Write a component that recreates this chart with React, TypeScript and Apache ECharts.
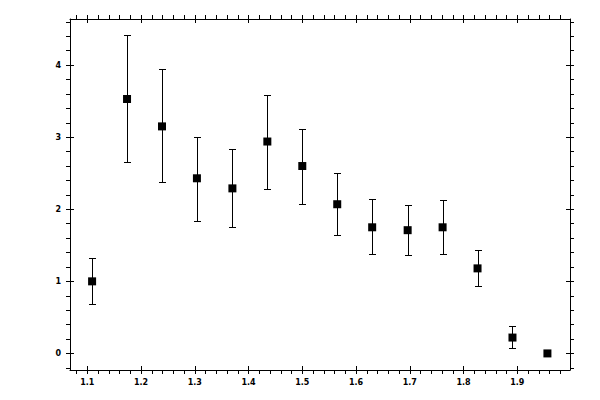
import React, { useEffect, useRef } from "react";
import * as echarts from "echarts";

const xValues = [1.109, 1.174, 1.239, 1.304, 1.37, 1.435, 1.5, 1.565, 1.63, 1.696, 1.761, 1.826, 1.891, 1.956];
const yValues = [1.0, 3.53, 3.15, 2.43, 2.29, 2.94, 2.6, 2.07, 1.75, 1.71, 1.75, 1.18, 0.22, 0.0];
const yUpper = [1.32, 4.42, 3.94, 3.0, 2.83, 3.59, 3.11, 2.5, 2.14, 2.06, 2.125, 1.44, 0.375, 0.0];
const yLower = [0.69, 2.65, 2.375, 1.84, 1.75, 2.28, 2.07, 1.64, 1.38, 1.36, 1.38, 0.93, 0.07, 0.0];

const xMajorTicks = [1.1, 1.2, 1.3, 1.4, 1.5, 1.6, 1.7, 1.8, 1.9];
const yMajorTicks = [0, 1, 2, 3, 4];

const X_MIN = 1.0679;
const X_MAX = 1.998;
const Y_MIN = -0.23;
const Y_MAX = 4.64;

function steps(from: number, to: number, step: number): number[] {
  const out: number[] = [];
  const n = Math.round((to - from) / step);
  for (let i = 0; i <= n; i++) out.push(Math.round((from + i * step) * 10000) / 10000);
  return out;
}

const xAllTicks = steps(1.08, 1.98, 0.02);
const yAllTicks = steps(-0.2, 4.6, 0.2);

const FONT = { fontFamily: "DejaVu Sans", fontSize: 8, fontWeight: "bold" as const, color: "#000" };

function makeX(position: "top" | "bottom", inner: boolean, labels: boolean) {
  return {
    type: "value",
    position,
    min: X_MIN,
    max: X_MAX,
    offset: 0,
    axisLine: { show: !inner, onZero: false, lineStyle: { color: "#000", width: 1 } },
    axisTick: {
      show: true,
      inside: inner,
      length: 4,
      customValues: inner ? xMajorTicks : xAllTicks,
      lineStyle: { color: "#000", width: 1 },
    },
    minorTick: { show: false },
    axisLabel: {
      show: labels,
      customValues: xMajorTicks,
      margin: 8,
      formatter: (v: number) => v.toFixed(1),
      ...FONT,
    },
    splitLine: { show: false },
  };
}

function makeY(position: "left" | "right", inner: boolean, labels: boolean) {
  return {
    type: "value",
    position,
    min: Y_MIN,
    max: Y_MAX,
    offset: 0,
    axisLine: { show: !inner, onZero: false, lineStyle: { color: "#000", width: 1 } },
    axisTick: {
      show: true,
      inside: inner,
      length: 4,
      customValues: inner ? yMajorTicks : yAllTicks,
      lineStyle: { color: "#000", width: 1 },
    },
    minorTick: { show: false },
    axisLabel: {
      show: labels,
      customValues: yMajorTicks,
      margin: 9,
      formatter: (v: number) => String(Math.round(v)),
      ...FONT,
    },
    splitLine: { show: false },
  };
}

const crisp = (v: number) => Math.round(v) + 0.5;

export default function App() {
  const ref = useRef<HTMLDivElement>(null);
  useEffect(() => {
    if (!ref.current) return;
    const chart = echarts.init(ref.current, undefined, { renderer: "svg" });
    const errData = xValues.map((x, i) => [x, yLower[i], yUpper[i]]);
    const ptData = xValues.map((x, i) => [x, yValues[i]]);
    chart.setOption({
      animation: false,
      backgroundColor: "#fff",
      grid: { left: 70, right: 30, top: 19, bottom: 30, containLabel: false },
      xAxis: [makeX("bottom", false, true), makeX("bottom", true, false), makeX("top", false, false), makeX("top", true, false)],
      yAxis: [makeY("left", false, true), makeY("left", true, false), makeY("right", false, false), makeY("right", true, false)],
      series: [
        {
          type: "custom",
          xAxisIndex: 0,
          yAxisIndex: 0,
          data: errData,
          encode: { x: 0, y: [1, 2] },
          renderItem: (params: any, api: any) => {
            const x = api.value(0);
            const lo = api.value(1);
            const hi = api.value(2);
            if (hi === lo) return { type: "group", children: [] };
            const pHi = api.coord([x, hi]);
            const pLo = api.coord([x, lo]);
            const cx = crisp(pHi[0]);
            const yh = crisp(pHi[1]);
            const yl = crisp(pLo[1]);
            const cap = 3.5;
            const st = { stroke: "#000", lineWidth: 1 };
            return {
              type: "group",
              children: [
                { type: "line", shape: { x1: cx, y1: yh, x2: cx, y2: yl }, style: st },
                { type: "line", shape: { x1: cx - cap, y1: yh, x2: cx + cap, y2: yh }, style: st },
                { type: "line", shape: { x1: cx - cap, y1: yl, x2: cx + cap, y2: yl }, style: st },
              ],
            };
          },
          z: 2,
        },
        {
          type: "scatter",
          xAxisIndex: 0,
          yAxisIndex: 0,
          data: ptData,
          symbol: "rect",
          symbolSize: 8,
          itemStyle: { color: "#000", opacity: 1 },
          z: 3,
        },
      ],
    });
    return () => chart.dispose();
  }, []);
  return <div ref={ref} style={{ position: "fixed", left: 0, top: 0, width: 600, height: 400, background: "#fff" }} />;
}
